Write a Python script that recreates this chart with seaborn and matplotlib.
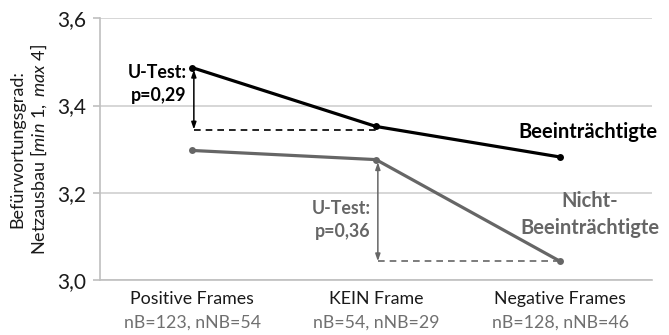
import pandas as pd
import numpy as np
import seaborn as sns
import matplotlib.pyplot as plt
import matplotlib.transforms as mtransforms

# Data
categories = ["Positive Frames", "KEIN Frame", "Negative Frames"]
sample_sizes = ["nB=123, nNB=54", "nB=54, nNB=29", "nB=128, nNB=46"]
beein = [3.487, 3.352, 3.282]
nicht_beein = [3.297, 3.276, 3.043]
yticks = [3.0, 3.2, 3.4, 3.6]
ytick_labels = ["3,0", "3,2", "3,4", "3,6"]

df = pd.DataFrame({
    "frame": categories * 2,
    "score": beein + nicht_beein,
    "group": ["Beeinträchtigte"] * 3 + ["Nicht-Beeinträchtigte"] * 3,
})

black = "#000000"
gray = "#666666"

sns.set_theme(style="white")
plt.rcParams["font.family"] = ["Lato", "DejaVu Sans"]
plt.rcParams["mathtext.fontset"] = "custom"
plt.rcParams["mathtext.rm"] = "Lato"
plt.rcParams["mathtext.it"] = "Lato:italic"

fig = plt.figure(figsize=(6.69, 3.35), dpi=100)
ax = fig.add_axes([0.1495, 0.1642, 0.8251, 0.7812])

sns.lineplot(data=df, x="frame", y="score", hue="group", sort=False,
             palette={"Beeinträchtigte": black, "Nicht-Beeinträchtigte": gray},
             marker="o", markersize=5, markeredgewidth=0, linewidth=2.3,
             legend=False, ax=ax)

ax.set_xlim(-0.5, 2.5)
ax.set_ylim(3.0, 3.6)
ax.set_yticks(yticks)
ax.set_yticklabels(ytick_labels, fontsize=15, color="#1a1a1a")
ax.yaxis.grid(True, color="#d0d0d0", linewidth=1.2)
ax.set_axisbelow(True)

for s in ["top", "right"]:
    ax.spines[s].set_visible(False)
for s in ["left", "bottom"]:
    ax.spines[s].set_color("#bfbfbf")
    ax.spines[s].set_linewidth(1.2)

# x ticks: labels at category centres, tick marks at boundaries
ax.set_xticks([0, 1, 2])
ax.set_xticklabels(categories, fontsize=12.8, color="#1a1a1a")
ax.tick_params(axis="x", length=0, pad=8)
ax.set_xticks([0.5, 1.5, 2.5], minor=True)
ax.tick_params(axis="x", which="minor", length=6, width=1.2, color="#bfbfbf", direction="out")
ax.tick_params(axis="y", length=5, width=1.2, color="#bfbfbf", direction="out", left=True, pad=5)
ax.set_xlabel("")

trans = mtransforms.blended_transform_factory(ax.transData, ax.transAxes)
for i, s in enumerate(sample_sizes):
    ax.text(i, -0.162, s, transform=trans, ha="center", va="center",
            fontsize=12.8, color="#707070")

ax.set_ylabel("Befürwortungsgrad:\nNetzausbau $\\it{[min\\ 1,\\ max\\ 4]}$",
              fontsize=13, color="#1a1a1a", labelpad=6, linespacing=1.15)

# U-test annotations
ax.annotate("", xy=(0.01, beein[0] - 0.005), xytext=(0.01, 3.345),
            arrowprops=dict(arrowstyle="<|-|>,head_length=0.35,head_width=0.12",
                            color=black, lw=1.1, shrinkA=0, shrinkB=0))
ax.plot([0.01, 1.0], [3.345, 3.345], color=black, lw=1.2, ls=(0, (4, 3)))
ax.text(-0.03, 3.45, "U-Test:\np=0,29", ha="right", va="center",
        fontsize=12.8, fontweight="bold", color=black, linespacing=1.45)

ax.annotate("", xy=(1.01, nicht_beein[1] - 0.006), xytext=(1.01, nicht_beein[2]),
            arrowprops=dict(arrowstyle="<|-|>,head_length=0.35,head_width=0.12",
                            color=gray, lw=1.1, shrinkA=0, shrinkB=0))
ax.plot([1.01, 2.0], [nicht_beein[2], nicht_beein[2]], color=gray, lw=1.2, ls=(0, (4, 3)))
ax.text(0.97, 3.137, "U-Test:\np=0,36", ha="right", va="center",
        fontsize=12.8, fontweight="bold", color=gray, linespacing=1.45)

ax.text(2.53, 3.34, "Beeinträchtigte", ha="right", va="center",
        fontsize=14.5, fontweight="bold", color=black, clip_on=False)
ax.text(2.16, 3.15, "Nicht-\nBeeinträchtigte", ha="center", va="center",
        fontsize=14.5, fontweight="bold", color=gray, linespacing=1.4, clip_on=False)

fig.savefig("out.png", dpi=100)
